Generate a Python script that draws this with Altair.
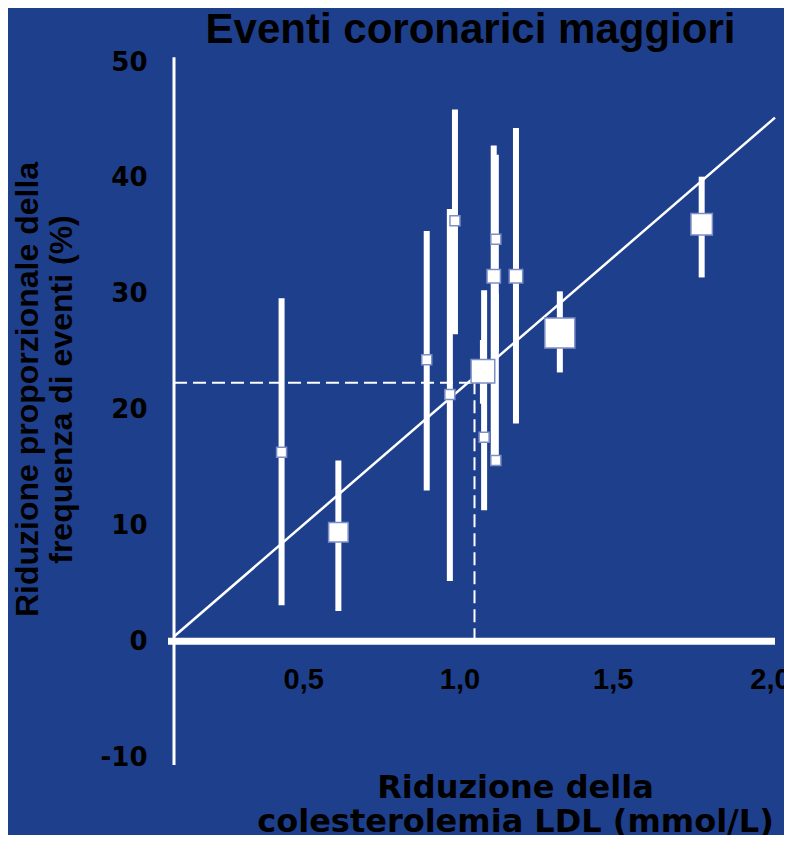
import altair as alt
import pandas as pd

# ---- data ----
# trials: LDL reduction (mmol/L), proportional reduction (%), CI low, CI high, relative weight
trial_ldl = [0.358, 0.547, 0.841, 0.935, 0.918, 1.028, 1.032, 1.071, 1.064, 1.071, 1.138, 1.284, 1.756]
trial_rr = [16.3, 9.4, 24.3, 36.3, 21.3, 23.3, 17.6, 34.7, 31.5, 15.6, 31.5, 26.6, 36.0]
trial_lo = [3.1, 2.6, 13.0, 26.5, 5.2, 20.5, 11.3, 25.0, 16.0, 15.6, 18.8, 23.2, 31.4]
trial_hi = [29.6, 15.6, 35.4, 45.9, 37.3, 26.0, 30.3, 42.0, 42.8, 30.0, 44.3, 30.2, 40.1]
trial_peso = [1.0, 3.8, 1.0, 1.0, 1.0, 5.6, 1.0, 1.0, 1.8, 1.0, 1.8, 9.0, 4.6]

reg_x = [0.0, 2.0]
reg_y = [0.4, 45.2]

ref_x = 1.0
ref_y = 22.3

x_ticks = [0.5, 1.0, 1.5, 2.0]
y_ticks = [-10, 0, 10, 20, 30, 40, 50]

x_domain = [0, 2.0]
y_domain = [-10, 50]

title_text = "Eventi coronarici maggiori"
x_title = ["Riduzione della", "colesterolemia LDL (mmol/L)"]
y_title = ["Riduzione proporzionale della", "frequenza di eventi (%)"]

BG = "#1e3f8c"
W, H = 601, 695

trials = pd.DataFrame({"ldl": trial_ldl, "rr": trial_rr, "lo": trial_lo,
                       "hi": trial_hi, "peso": trial_peso})
reg = pd.DataFrame({"ldl": reg_x, "rr": reg_y})
ref_h = pd.DataFrame({"ldl": [x_domain[0]], "ldl2": [ref_x], "rr": [ref_y]})
ref_v = pd.DataFrame({"ldl": [ref_x], "rr": [0], "rr2": [ref_y]})
axis_x = pd.DataFrame({"ldl": [-0.02], "ldl2": [x_domain[1]], "rr": [0]})
axis_y = pd.DataFrame({"ldl": [0], "rr": [-10.7], "rr2": [50.4]})

xs = alt.Scale(domain=x_domain, nice=False, zero=False)
ys = alt.Scale(domain=y_domain, nice=False, zero=False)

# distance (px) from the bottom of the plot up to the zero line
zero_up = H * (0 - y_domain[0]) / (y_domain[1] - y_domain[0])

x_axis = alt.Axis(
    values=x_ticks,
    labelExpr="replace(format(datum.value, '.1f'), '.', ',')",
    domain=False, ticks=False, grid=False,
    labelFont="Liberation Sans", labelFontWeight="bold", labelFontSize=29,
    labelColor="black", labelBaseline="middle", labelPadding=38,
    labelFlush=False, labelOverlap=False,
    labelOffset={"condition": [
        {"test": "datum.value == 0.5", "value": -21},
        {"test": "datum.value == 1", "value": -15},
        {"test": "datum.value == 1.5", "value": -12}], "value": -5},
    offset=-zero_up,
    title=x_title,
    titleFont="DejaVu Sans", titleFontSize=32, titleFontWeight="bold",
    titleColor="black", titleAlign="center", titleBaseline="alphabetic",
    titleLineHeight=34, titleX=341, titleY=156,
)

y_axis = alt.Axis(
    values=y_ticks,
    labelExpr="datum.value + ''",
    domain=False, ticks=False, grid=False,
    labelFont="DejaVu Sans", labelFontWeight="bold", labelFontSize=26,
    labelColor="black", labelPadding=27, labelFlush=False, labelOverlap=False,
    title=y_title,
    titleFont="Liberation Sans", titleFontSize=32, titleFontWeight="bold",
    titleColor="black", titleAngle=270, titleAlign="center",
    titleBaseline="alphabetic", titleLineHeight=34, titleX=-137, titleY=327,
)


def X(field):
    return alt.X(field, type="quantitative", scale=xs, axis=x_axis)


def Y(field):
    return alt.Y(field, type="quantitative", scale=ys, axis=y_axis)


ci = alt.Chart(trials).mark_rule(color="white", strokeWidth=6, strokeCap="butt").encode(
    x=X("ldl"), y=Y("lo"), y2="hi:Q",
)

ax_x = alt.Chart(axis_x).mark_rule(color="white", strokeWidth=7, strokeCap="butt").encode(
    x=X("ldl"), x2="ldl2:Q", y=Y("rr"),
)
ax_y = alt.Chart(axis_y).mark_rule(color="white", strokeWidth=3, strokeCap="butt").encode(
    x=X("ldl"), y=Y("rr"), y2="rr2:Q",
)

line = alt.Chart(reg).mark_line(color="white", strokeWidth=2.5).encode(
    x=X("ldl"), y=Y("rr"),
)

dash_h = alt.Chart(ref_h).mark_rule(color="white", strokeWidth=2, strokeDash=[13, 6]).encode(
    x=X("ldl"), x2="ldl2:Q", y=Y("rr"),
)
dash_v = alt.Chart(ref_v).mark_rule(color="white", strokeWidth=2, strokeDash=[13, 6]).encode(
    x=X("ldl"), y=Y("rr"), y2="rr2:Q",
)

squares = alt.Chart(trials).mark_square(fill="white", fillOpacity=1, opacity=1,
                                         stroke="#7d8ec6", strokeWidth=1.5).encode(
    x=X("ldl"), y=Y("rr"),
    size=alt.Size("peso:Q", scale=alt.Scale(domain=[0, 10], range=[0, 1000]), legend=None),
)

title = alt.Chart(pd.DataFrame({"t": [title_text]})).mark_text(
    font="Liberation Sans", fontSize=42, fontWeight="bold", color="black",
    align="center", baseline="alphabetic",
).encode(text="t:N", x=alt.value(W / 2 - 4), y=alt.value(-19))

chart = alt.layer(ci, ax_y, ax_x, line, dash_h, dash_v, squares, title).properties(
    width=W, height=H,
    autosize=alt.AutoSizeParams(type="none"),
    padding={"left": 166, "top": 54, "right": 9, "bottom": 78},
    background=BG,
).configure_view(stroke=None)

chart.save("out.html", embed_options={"renderer": "svg", "actions": False})
